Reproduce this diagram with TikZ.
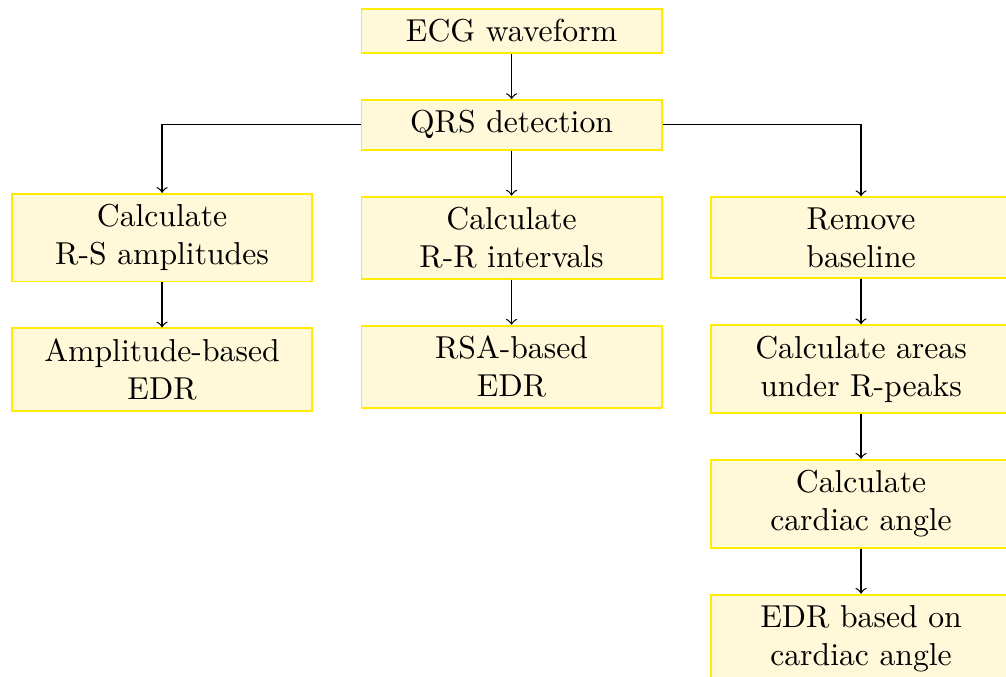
\documentclass[tikz,border=0pt]{standalone}
\usetikzlibrary{positioning}

\definecolor{boxfill}{RGB}{255,249,218}
\definecolor{boxline}{RGB}{255,236,0}

\begin{document}
\begin{tikzpicture}[node distance=14.2pt and 15pt,
    block/.style={draw=boxline, fill=boxfill, semithick, text width=88pt, align=center},
    flow/.style={->}]

    \useasboundingbox (-161.4pt,-203.5pt) rectangle (156pt,9.8pt);

    \node[block] (ecg) at (0,0) {ECG waveform};
    \node[block, below=of ecg] (qrs) {QRS detection};

    % three branches
    \node[block, below=of qrs] (rr) {Calculate\\R-R intervals};
    \node[block, left=of rr] (rs) {Calculate\\R-S amplitudes};
    \node[block, right=of rr] (base) {Remove\\baseline};

    \node[block, below=of rs] (amp) {Amplitude-based\\EDR};
    \node[block, below=of rr] (rsa) {RSA-based\\EDR};
    \node[block, below=of base] (area) {Calculate areas\\under R-peaks};
    \node[block, below=of area] (angle) {Calculate\\cardiac angle};
    \node[block, below=of angle] (edrangle) {EDR based on\\cardiac angle};

    \draw[flow] (ecg) -- (qrs);
    \draw[flow] (qrs) -- (rr);
    \draw[flow] (qrs.west) -| (rs);
    \draw[flow] (qrs.east) -| (base);
    \draw[flow] (rs) -- (amp);
    \draw[flow] (rr) -- (rsa);
    \draw[flow] (base) -- (area);
    \draw[flow] (area) -- (angle);
    \draw[flow] (angle) -- (edrangle);

\end{tikzpicture}
\end{document}
